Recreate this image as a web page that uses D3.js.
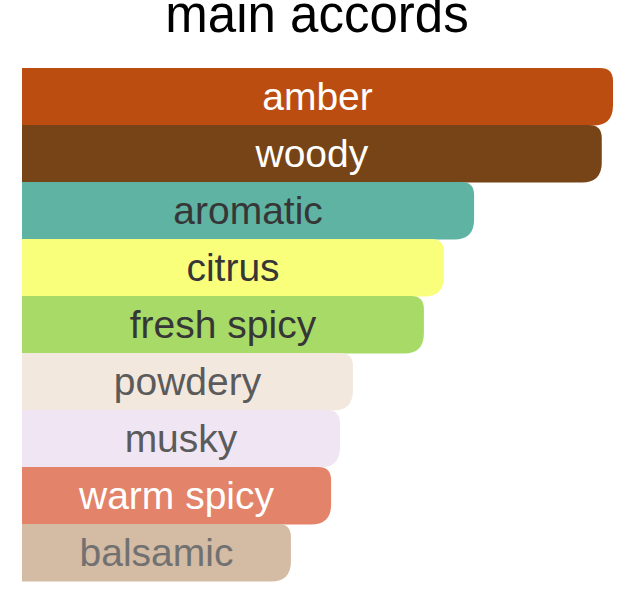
<!DOCTYPE html>
<html>
<head>
<meta charset="utf-8">
<script src="https://cdn.jsdelivr.net/npm/d3@7"></script>
<style>
  html, body { margin: 0; padding: 0; background: #fff; }
  svg { display: block; }
</style>
</head>
<body>
<svg id="chart" width="640" height="609"></svg>
<script>
var accords = ["amber", "woody", "aromatic", "citrus", "fresh spicy", "powdery", "musky", "warm spicy", "balsamic"];
var strength = [100, 98.1, 76.5, 71.4, 68, 56, 53.8, 52.3, 45.5];
var barColors = ["#bc4d10", "#774417", "#5fb3a2", "#faff7b", "#a7da66", "#f3e8de", "#f0e5f2", "#e2836a", "#d4bba3"];
var textColors = ["#ffffff", "#ffffff", "#363636", "#363636", "#363636", "#5b5b5b", "#5b5b5b", "#ffffff", "#717171"];

var svg = d3.select("#chart");

var x = d3.scaleLinear().domain([0, 100]).range([22, 613]);
var y = d3.scaleBand().domain(accords).range([68, 581]).padding(0);

// bar with square left end and rounded right end
function barPath (x0, x1, y0, y1) {
	var rt = 13, rb = 20;
	return "M" + x0 + "," + y0 +
		"H" + (x1 - rt) +
		"Q" + x1 + "," + y0 + " " + x1 + "," + (y0 + rt) +
		"V" + (y1 - rb) +
		"Q" + x1 + "," + y1 + " " + (x1 - rb) + "," + y1 +
		"H" + x0 + "Z";
}

svg.append("text")
	.attr("x", 317)
	.attr("y", 32)
	.attr("text-anchor", "middle")
	.attr("font-family", "'Liberation Sans', Arial, sans-serif")
	.attr("font-size", 51)
	.attr("fill", "#000")
	.text("main accords");

var rows = svg.selectAll("g.row")
	.data(accords)
	.enter()
	.append("g")
	.attr("class", "row");

rows.append("path")
	.attr("d", function (d, i) {
		return barPath(x(0), x(strength[i]), y(d), y(d) + y.bandwidth() + 0.5);
	})
	.attr("fill", function (d, i) { return barColors[i]; });

rows.append("text")
	.attr("x", function (d, i) { return (x(0) + x(strength[i])) / 2; })
	.attr("y", function (d) { return y(d) + y.bandwidth() / 2 + 13.5; })
	.attr("text-anchor", "middle")
	.attr("font-family", "'Liberation Sans', Arial, sans-serif")
	.attr("font-size", 39)
	.attr("fill", function (d, i) { return textColors[i]; })
	.text(function (d) { return d; });
</script>
</body>
</html>
